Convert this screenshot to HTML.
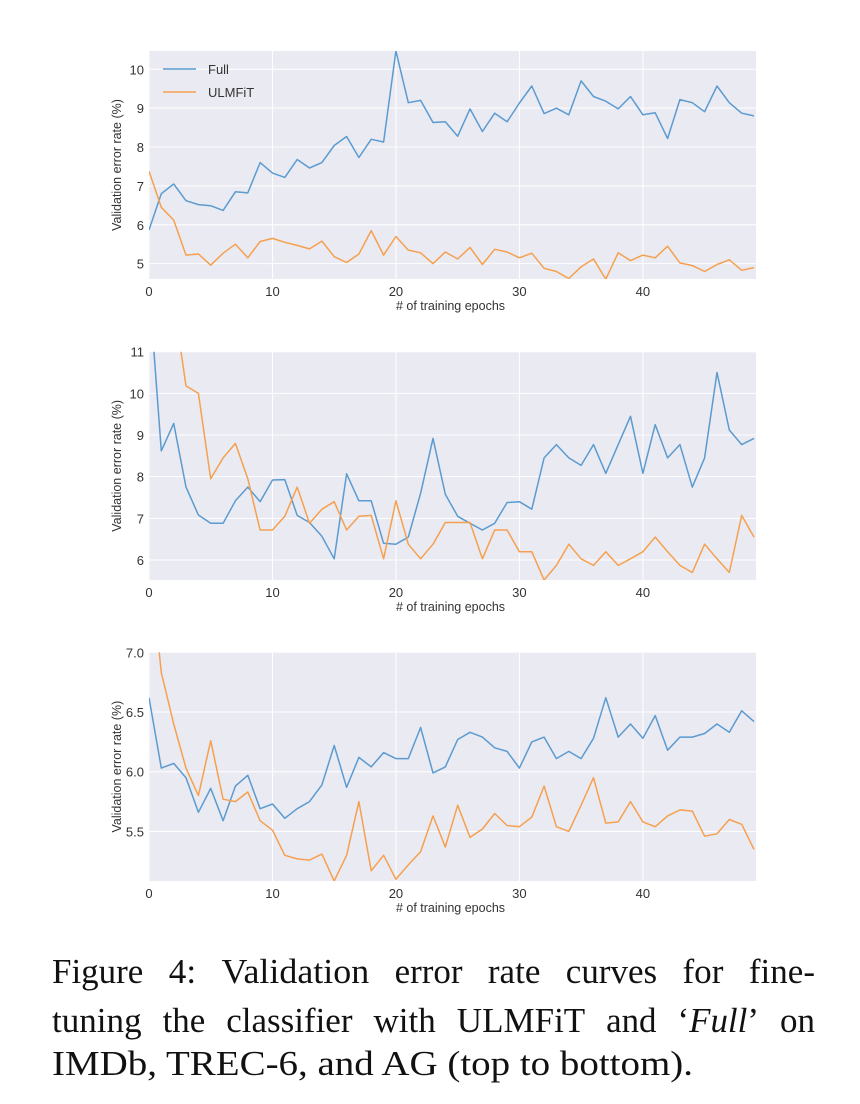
<!DOCTYPE html>
<html><head><meta charset="utf-8">
<style>
html,body{margin:0;padding:0;background:#fff;}
svg{display:block;}
.ax{font-family:"Liberation Sans",sans-serif;}
.cap{font-family:"Liberation Serif",serif;font-size:35px;fill:#111;}
</style></head>
<body>
<svg id="fig" width="860" height="1104" viewBox="0 0 860 1104">
<g id="charts" class="ax"></g>
<g>
<g id="cap1" data-y="983">
<text class="cap w" data-em="2.61">Figure</text>
<text class="cap w" data-em="0.78">4:</text>
<text class="cap w" data-em="4.22">Validation</text>
<text class="cap w" data-em="1.94">error</text>
<text class="cap w" data-em="1.5">rate</text>
<text class="cap w" data-em="2.61">curves</text>
<text class="cap w" data-em="1.17">for</text>
<text class="cap w" data-em="1.89">fine-</text>
</g>
<g id="cap2" data-y="1032">
<text class="cap w" data-em="2.56">tuning</text>
<text class="cap w" data-em="1.22">the</text>
<text class="cap w" data-em="3.61">classifier</text>
<text class="cap w" data-em="1.78">with</text>
<text class="cap w" data-em="3.67">ULMFiT</text>
<text class="cap w" data-em="1.44">and</text>
<text class="cap w" data-em="2.33">‘<tspan font-style="italic">Full</tspan>’</text>
<text class="cap w" data-em="1.0">on</text>
</g>
<text class="cap" id="cap3" x="52" y="1075" textLength="641" lengthAdjust="spacingAndGlyphs">IMDb, TREC-6, and AG (top to bottom).</text>
</g>
</svg>
<script>
const epochs = Array.from({length:50},(_,i)=>i);
const imdbFull = [5.87,6.8,7.05,6.62,6.52,6.49,6.37,6.85,6.82,7.6,7.33,7.22,7.68,7.46,7.6,8.04,8.27,7.73,8.2,8.13,10.47,9.14,9.2,8.63,8.65,8.28,8.98,8.4,8.87,8.65,9.13,9.57,8.86,9.0,8.83,9.7,9.3,9.18,8.98,9.3,8.83,8.88,8.22,9.22,9.14,8.91,9.57,9.14,8.87,8.8];
const imdbUlm = [7.38,6.45,6.12,5.22,5.25,4.96,5.27,5.5,5.15,5.57,5.65,5.55,5.47,5.38,5.58,5.18,5.03,5.25,5.85,5.22,5.7,5.35,5.28,5.0,5.3,5.12,5.42,4.98,5.37,5.3,5.15,5.27,4.88,4.8,4.62,4.92,5.12,4.6,5.28,5.08,5.22,5.15,5.45,5.02,4.95,4.8,4.98,5.1,4.83,4.9];
const trecFull = [12.6,8.62,9.28,7.75,7.08,6.88,6.88,7.42,7.75,7.4,7.92,7.93,7.07,6.9,6.57,6.03,8.07,7.42,7.42,6.4,6.38,6.55,7.6,8.92,7.58,7.05,6.88,6.72,6.88,7.38,7.4,7.22,8.45,8.77,8.45,8.27,8.77,8.08,8.77,9.45,8.08,9.25,8.45,8.77,7.75,8.45,10.5,9.12,8.77,8.92];
const trecUlm = [18,15,12.2,10.18,10.0,7.95,8.45,8.8,7.95,6.72,6.72,7.05,7.75,6.88,7.22,7.4,6.72,7.05,7.07,6.03,7.42,6.38,6.03,6.38,6.9,6.9,6.9,6.03,6.72,6.72,6.2,6.2,5.52,5.87,6.38,6.03,5.87,6.2,5.87,6.03,6.2,6.55,6.2,5.87,5.7,6.38,6.03,5.7,7.07,6.55];
const agFull = [6.62,6.03,6.07,5.95,5.66,5.86,5.59,5.88,5.97,5.69,5.73,5.61,5.69,5.75,5.89,6.22,5.87,6.12,6.04,6.16,6.11,6.11,6.37,5.99,6.04,6.27,6.33,6.29,6.2,6.17,6.03,6.25,6.29,6.11,6.17,6.11,6.28,6.62,6.29,6.4,6.28,6.47,6.18,6.29,6.29,6.32,6.4,6.33,6.51,6.42];
const agUlm = [7.83,6.83,6.4,6.03,5.8,6.26,5.77,5.75,5.83,5.59,5.51,5.3,5.27,5.26,5.31,5.085,5.3,5.75,5.17,5.3,5.1,5.22,5.33,5.63,5.37,5.72,5.45,5.52,5.65,5.55,5.54,5.62,5.88,5.54,5.5,5.72,5.95,5.57,5.58,5.75,5.58,5.54,5.63,5.68,5.67,5.46,5.48,5.6,5.56,5.35];
const xTicks = [0,10,20,30,40];
const imdbYTicks = [5,6,7,8,9,10];
const trecYTicks = [6,7,8,9,10,11];
const agYTicks = [5.5,6.0,6.5,7.0];
const agYLabels = ["5.5","6.0","6.5","7.0"];

const NS="http://www.w3.org/2000/svg";
const root=document.getElementById('charts');
function mk(tag,attrs,parent){const e=document.createElementNS(NS,tag);for(const k in attrs)e.setAttribute(k,attrs[k]);parent.appendChild(e);return e;}
const BLUE="#5b9bd0", ORANGE="#f6a04f";

function drawPanel(id,top,bottom,ymin,ymax,yTicks,yLabels,full,ulm,legend){
  const L=149,R=756;
  const g=mk('g',{},root);
  
  
  const xs=v=>L+(v/49)*(754-L);
  const ys=v=>bottom-(v-ymin)/(ymax-ymin)*(bottom-top);
  const bg=mk('rect',{x:L,y:top,width:R-L,height:bottom-top,fill:'#eaeaf2'},g);
  
  
  const cp=mk('clipPath',{id:id+'-clip'},g);
  mk('rect',{x:L,y:top,width:R-L,height:bottom-top},cp);
  xTicks.forEach(t=>{
    mk('line',{x1:xs(t),x2:xs(t),y1:top,y2:bottom,stroke:'#fff','stroke-width':1},g);
    const tx=mk('text',{x:xs(t),y:bottom+17,'text-anchor':'middle','font-size':13,fill:'#333'},g);
    tx.textContent=t;
    
    
  });
  yTicks.forEach((t,i)=>{
    mk('line',{x1:L,x2:R,y1:ys(t),y2:ys(t),stroke:'#fff','stroke-width':1},g);
    const ty=mk('text',{x:L-5,y:ys(t)+5,'text-anchor':'end','font-size':13,fill:'#333'},g);
    ty.textContent=yLabels?yLabels[i]:t;
    
    
  });
  const xl=mk('text',{x:(L+R)/2-2,y:bottom+31,'text-anchor':'middle','font-size':12.5,fill:'#333'},g);
  xl.textContent='# of training epochs';
  
  
  const cy=(top+bottom)/2;
  const yl=mk('text',{x:0,y:0,'text-anchor':'middle','font-size':12.5,fill:'#333',transform:`translate(121,${cy}) rotate(-90)`},g);
  yl.textContent='Validation error rate (%)';
  
  
  [[full,BLUE,'full'],[ulm,ORANGE,'ulmfit']].forEach(([arr,col,nm])=>{
    const d=arr.map((v,i)=>(i?'L':'M')+xs(epochs[i]).toFixed(1)+','+ys(v).toFixed(1)).join(' ');
    const p=mk('path',{d:d,fill:'none',stroke:col,'stroke-width':1.5,'clip-path':`url(#${id}-clip)`,'stroke-linejoin':'round'},g);
    
    
  });
  if(legend){
    [['Full',BLUE,69],['ULMFiT',ORANGE,92]].forEach(([lab,col,yy])=>{
      const lg=mk('g',{},g);
      
      
      mk('line',{x1:163,x2:196,y1:yy,y2:yy,stroke:col,'stroke-width':1.5},lg);
      const t=mk('text',{x:208,y:yy+5,'font-size':13,fill:'#333'},lg);
      t.textContent=lab;
    });
  }
}
drawPanel('imdb',51,279,4.606,10.47,imdbYTicks,null,imdbFull,imdbUlm,true);
drawPanel('trec',351.7,580,5.52,11,trecYTicks,null,trecFull,trecUlm,false);
drawPanel('ag',652.3,881,5.085,7.0,agYTicks,agYLabels,agFull,agUlm,false);

// justified caption lines: word widths from Times metrics, equal gaps
['cap1','cap2'].forEach(id=>{
  const g=document.getElementById(id);
  const y=g.getAttribute('data-y');
  const words=[...g.querySelectorAll('text.w')];
  const ws=words.map(w=>parseFloat(w.getAttribute('data-em'))*35);
  const tot=ws.reduce((a,b)=>a+b,0);
  const gap=(815-52-tot)/(words.length-1);
  let x=52;
  words.forEach((w,i)=>{
    w.setAttribute('x',x.toFixed(1));
    w.setAttribute('y',y);
    w.setAttribute('textLength',ws[i].toFixed(1));
    w.setAttribute('lengthAdjust','spacingAndGlyphs');
    x+=ws[i]+gap;
  });
});
</script>
</body></html>
